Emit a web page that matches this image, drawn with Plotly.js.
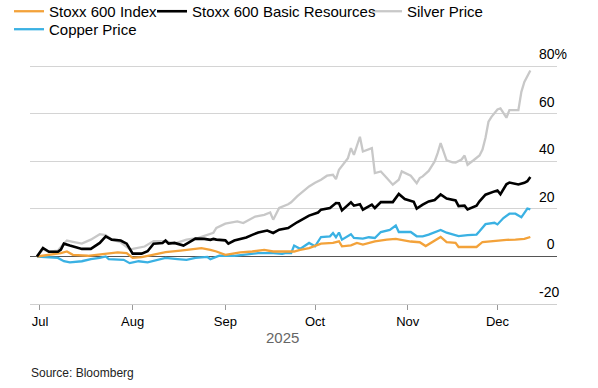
<!DOCTYPE html>
<html>
<head>
<meta charset="utf-8">
<script src="https://cdn.plot.ly/plotly-3.0.1.min.js"></script>
<style>html,body{margin:0;padding:0;background:#fff}#chart{width:598px;height:388px}</style>
</head>
<body>
<div id="chart"></div>
<script>
// ---- Data (percent change since Jun 30, 2025) ----
const seriesNames = ["Stoxx 600 Index", "Stoxx 600 Basic Resources", "Silver Price", "Copper Price"];

const stoxxDates = ["2025-06-30","2025-07-05","2025-07-08","2025-07-10","2025-07-12","2025-07-17","2025-07-20","2025-07-23","2025-07-27","2025-07-30","2025-08-01","2025-08-04","2025-08-08","2025-08-12","2025-08-17","2025-08-21","2025-08-24","2025-08-27","2025-08-29","2025-09-01","2025-09-06","2025-09-10","2025-09-14","2025-09-17","2025-09-20","2025-09-24","2025-09-26","2025-09-29","2025-10-03","2025-10-07","2025-10-09","2025-10-10","2025-10-13","2025-10-15","2025-10-17","2025-10-21","2025-10-25","2025-10-28","2025-11-02","2025-11-05","2025-11-07","2025-11-09","2025-11-12","2025-11-14","2025-11-17","2025-11-18","2025-11-21","2025-11-24","2025-11-26","2025-11-30","2025-12-04","2025-12-07","2025-12-10","2025-12-12"];
const stoxxVals = [0,0.7,1.4,2.1,0.7,0.3,0.7,1.4,1.7,1.4,-0.6,-0.3,0.7,1.8,2.5,3.1,3.5,2.8,2.1,0.7,1.7,2.1,2.8,2.1,2.1,2.1,2.8,3.5,5.4,5.7,6.4,4.3,4.7,5.7,5.0,6.4,7.1,7.4,6.3,6.0,4.4,6.0,8.2,6.0,5.7,4.0,4.0,4.0,6.1,6.6,7.0,7.1,7.4,8.2];

const basicDates = ["2025-06-30","2025-07-02","2025-07-04","2025-07-07","2025-07-08","2025-07-09","2025-07-11","2025-07-15","2025-07-18","2025-07-21","2025-07-23","2025-07-25","2025-07-28","2025-07-30","2025-08-01","2025-08-04","2025-08-06","2025-08-08","2025-08-11","2025-08-12","2025-08-13","2025-08-15","2025-08-18","2025-08-20","2025-08-22","2025-08-25","2025-08-27","2025-08-28","2025-08-29","2025-09-01","2025-09-02","2025-09-04","2025-09-06","2025-09-08","2025-09-10","2025-09-12","2025-09-15","2025-09-17","2025-09-19","2025-09-22","2025-09-25","2025-09-27","2025-09-29","2025-10-02","2025-10-03","2025-10-06","2025-10-08","2025-10-09","2025-10-10","2025-10-13","2025-10-14","2025-10-16","2025-10-17","2025-10-20","2025-10-21","2025-10-23","2025-10-27","2025-10-29","2025-10-31","2025-11-03","2025-11-04","2025-11-06","2025-11-08","2025-11-10","2025-11-12","2025-11-14","2025-11-17","2025-11-18","2025-11-20","2025-11-21","2025-11-24","2025-11-25","2025-11-27","2025-11-30","2025-12-01","2025-12-02","2025-12-04","2025-12-05","2025-12-08","2025-12-10","2025-12-11","2025-12-12"];
const basicVals = [0,3.6,2.0,2.0,2.9,5.4,4.6,3.2,3.2,5.7,8.5,7.1,6.7,5.4,1.2,1.2,2.2,5.4,5.7,6.7,5.4,5.7,4.6,6.2,7.5,7.4,7.0,7.4,7.1,6.8,5.4,6.7,7.4,8.0,9.1,10.1,10.9,9.9,11.3,12.0,14.4,15.8,17.2,18.5,19.7,20.4,22.5,22.4,19.4,22.8,21.4,22.0,19.7,21.8,20.4,22.9,22.9,26.3,24.2,23.0,20.2,21.8,23.2,23.8,26.1,24.4,23.6,21.2,21.4,19.8,21.4,23.2,26.0,27.4,27.8,26.2,30.4,31.1,30.3,31.0,31.7,33.5];

const silverDates = ["2025-06-30","2025-07-02","2025-07-04","2025-07-07","2025-07-09","2025-07-10","2025-07-12","2025-07-15","2025-07-18","2025-07-21","2025-07-23","2025-07-25","2025-07-28","2025-07-31","2025-08-01","2025-08-05","2025-08-08","2025-08-12","2025-08-15","2025-08-19","2025-08-23","2025-08-28","2025-08-29","2025-09-01","2025-09-05","2025-09-07","2025-09-09","2025-09-11","2025-09-14","2025-09-16","2025-09-17","2025-09-19","2025-09-22","2025-09-23","2025-09-25","2025-09-27","2025-09-29","2025-10-01","2025-10-03","2025-10-05","2025-10-07","2025-10-08","2025-10-09","2025-10-12","2025-10-13","2025-10-14","2025-10-16","2025-10-17","2025-10-20","2025-10-21","2025-10-23","2025-10-25","2025-10-27","2025-10-29","2025-10-30","2025-11-02","2025-11-04","2025-11-05","2025-11-06","2025-11-08","2025-11-10","2025-11-11","2025-11-12","2025-11-14","2025-11-16","2025-11-17","2025-11-19","2025-11-20","2025-11-21","2025-11-23","2025-11-25","2025-11-26","2025-11-27","2025-11-28","2025-11-29","2025-12-01","2025-12-02","2025-12-04","2025-12-05","2025-12-08","2025-12-09","2025-12-10","2025-12-11","2025-12-12"];
const silverVals = [0,3.0,2.0,2.5,5.5,6.7,6.2,5.4,7.1,9.4,9.0,7.1,6.0,3.0,3.2,4.2,6.5,6.5,5.4,7.1,7.8,10.0,12.0,13.8,14.8,14.1,15.5,16.8,17.5,18.5,15.5,20.4,22.0,22.8,25.3,27.4,29.5,31.0,32.3,34.0,34.4,32.6,36.5,41.4,45.6,42.8,50.4,44.2,45.6,35.1,35.8,33.0,30.2,32.3,35.8,34.0,30.8,33.0,33.7,36.0,40.0,43.5,47.7,40.5,39.6,39.5,40.8,42.5,38.6,40.5,42.5,45.0,50.0,56.7,58.8,61.9,62.3,58.4,61.6,61.6,69.3,73.5,75.8,78.3];

const copperDates = ["2025-06-30","2025-07-05","2025-07-07","2025-07-09","2025-07-11","2025-07-15","2025-07-18","2025-07-21","2025-07-23","2025-07-24","2025-07-27","2025-07-29","2025-07-31","2025-08-03","2025-08-06","2025-08-09","2025-08-12","2025-08-16","2025-08-19","2025-08-22","2025-08-26","2025-08-27","2025-08-30","2025-09-04","2025-09-08","2025-09-12","2025-09-17","2025-09-20","2025-09-21","2025-09-23","2025-09-24","2025-09-26","2025-09-29","2025-10-01","2025-10-03","2025-10-06","2025-10-07","2025-10-08","2025-10-09","2025-10-10","2025-10-13","2025-10-14","2025-10-17","2025-10-19","2025-10-21","2025-10-23","2025-10-26","2025-10-28","2025-10-29","2025-11-02","2025-11-04","2025-11-06","2025-11-08","2025-11-12","2025-11-14","2025-11-18","2025-11-21","2025-11-24","2025-11-25","2025-11-27","2025-11-30","2025-12-01","2025-12-03","2025-12-05","2025-12-07","2025-12-09","2025-12-11","2025-12-12"];
const copperVals = [0,-0.6,-0.6,-2.0,-2.5,-2.0,-1.1,-0.6,0,-1.1,-1.1,-1.4,-2.8,-2.0,-2.5,-1.4,-0.6,-1.1,-1.4,-0.6,-0.2,-1.1,0.3,0.3,0.7,1.4,1.4,1.1,1.4,1.4,4.6,3.2,5.7,4.3,8.2,8.5,9.9,8.1,10.1,7.1,9.4,7.8,7.5,8.1,7.8,10.3,11.2,13.0,10.3,10.3,8.5,8.5,9.2,11.2,10.0,8.6,9.0,9.2,10.6,13.6,14.2,13.5,16.2,18.0,18.0,16.5,20.2,19.8];

const seriesColors = ["#F3A23A", "#000000", "#C8C8C8", "#3AB1E3"];
const yTicks = [-20, 0, 20, 40, 60, 80];
const yTickText = yTicks.map((v, i) =>
  i === yTicks.length - 1 ? v + "%" : (v === 0 ? "\u00a0\u00a0" + v : String(v)));
const yearLabel = "2025";
const sourceText = "Source: Bloomberg";

// ---- Geometry ----
const W = 598, H = 388;
const M = {l: 30, r: 41, t: 64.6, b: 84, autoexpand: false};
const plotW = W - M.l - M.r, plotH = H - M.t - M.b;
const px2x = p => (p - M.l) / plotW;
const py2y = p => (H - M.b - p) / plotH;

const FONT = "Liberation Sans, Arial, Helvetica, sans-serif";

function mk(name, dates, vals, color, width, legendId) {
  return {
    type: "scatter", mode: "lines", name: name, x: dates, y: vals,
    line: {color: color, width: width, shape: "linear"},
    legend: legendId, hoverinfo: "skip"
  };
}

const traces = [
  mk(seriesNames[2], silverDates, silverVals, seriesColors[2], 2.3, "legend3"),
  mk(seriesNames[3], copperDates, copperVals, seriesColors[3], 2.3, "legend4"),
  mk(seriesNames[0], stoxxDates, stoxxVals, seriesColors[0], 2.3, "legend"),
  mk(seriesNames[1], basicDates, basicVals, seriesColors[1], 2.6, "legend2")
];

function leg(pxText, pyCenter) {
  return {
    x: px2x(pxText - 40), xanchor: "left", y: py2y(pyCenter), yanchor: "middle",
    orientation: "h", bgcolor: "rgba(0,0,0,0)", borderwidth: 0,
    font: {family: FONT, size: 15, color: "#000"}, itemwidth: 30
  };
}

// midpoint of data range for the year label
const t0 = new Date(silverDates[0]).getTime();
const t1 = new Date(silverDates[silverDates.length - 1]).getTime();
const midDate = new Date((t0 + t1) / 2).toISOString().slice(0, 10);

const layout = {
  width: W, height: H,
  margin: M,
  paper_bgcolor: "#fff", plot_bgcolor: "#fff",
  font: {family: FONT, size: 13, color: "#000"},
  showlegend: true,
  legend: leg(49, 11),
  legend2: leg(192, 11),
  legend3: leg(407, 11),
  legend4: leg(49, 29),
  xaxis: {
    type: "date",
    range: ["2025-06-27 16:00", "2025-12-20 22:00"],
    tick0: "2025-07-01", dtick: "M1", tickformat: "%b",
    ticks: "outside", ticklen: 5, tickcolor: "#999", tickwidth: 1,
    showline: true, linecolor: "#cfcfcf", linewidth: 1,
    showgrid: false, zeroline: false,
    tickfont: {family: FONT, size: 13, color: "#000"}
  },
  yaxis: {
    side: "right",
    range: [-20, 80.6],
    tickmode: "array", tickvals: yTicks, ticktext: yTickText,
    ticks: "",
    showgrid: true, gridcolor: "#d4d4d4", gridwidth: 1,
    zeroline: true, zerolinecolor: "#555", zerolinewidth: 1,
    showline: false,
    ticklabelposition: "outside",
    ticklabelstandoff: -19,
    ticklabelshift: -12,
    tickfont: {family: FONT, size: 14, color: "#000"}
  },
  annotations: [
    {text: yearLabel, xref: "x", yref: "paper", x: midDate, y: py2y(338),
     xanchor: "center", yanchor: "middle", showarrow: false,
     font: {family: FONT, size: 15, color: "#666"}},
    {text: sourceText, xref: "paper", yref: "paper", x: px2x(29), y: py2y(373),
     xanchor: "left", yanchor: "middle", showarrow: false,
     font: {family: FONT, size: 12, color: "#222"}}
  ]
};

Plotly.newPlot("chart", traces, layout, {staticPlot: true, displayModeBar: false});
</script>
</body>
</html>
